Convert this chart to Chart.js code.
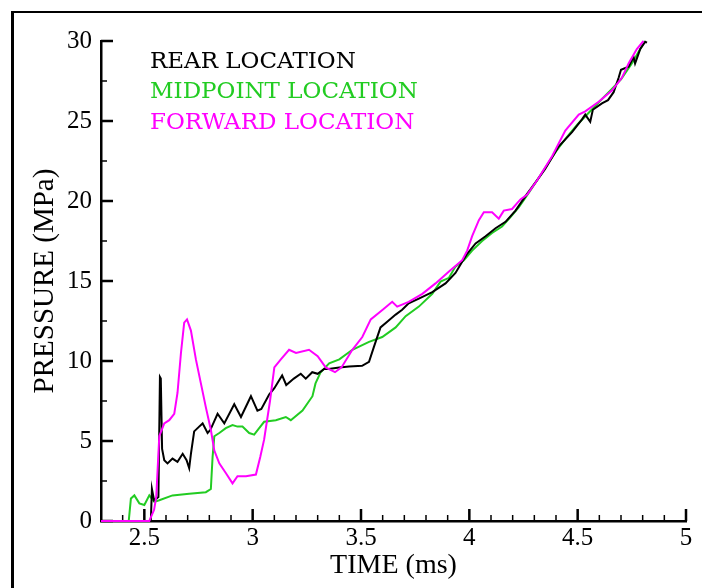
<!DOCTYPE html>
<html>
<head>
<meta charset="utf-8">
<script src="https://cdn.jsdelivr.net/npm/chart.js@4/dist/chart.umd.min.js"></script>
<style>
  body { margin: 0; background: #fff; overflow: hidden; }
  #frame { position: absolute; left: 11px; top: 11px; width: 1000px; height: 1000px;
           border-left: 3px solid #000; border-top: 2px solid #000; }
  #wrap { position: absolute; left: 0; top: 0; width: 702px; height: 588px; }
</style>
</head>
<body>
<div id="frame"></div>
<div id="wrap"><canvas id="myChart"></canvas></div>
<script>
// rear location (black)
let rearX = [2.3, 2.53, 2.535, 2.545, 2.555, 2.565, 2.572, 2.576, 2.582, 2.592, 2.607, 2.63, 2.653, 2.677, 2.695, 2.707,
  2.715, 2.73, 2.753, 2.769, 2.792, 2.805, 2.838, 2.869, 2.915, 2.946, 2.992, 3.022, 3.04, 3.076, 3.1, 3.136, 3.155,
  3.19, 3.222, 3.245, 3.275, 3.3, 3.33, 3.35, 3.4, 3.445, 3.505, 3.537, 3.56, 3.59, 3.625, 3.66, 3.69, 3.72, 3.767,
  3.829, 3.89, 3.936, 3.967, 3.99, 4.029, 4.075, 4.121, 4.167, 4.213, 4.259, 4.313, 4.35, 4.412, 4.474, 4.52, 4.535,
  4.558, 4.57, 4.612, 4.64, 4.666, 4.689, 4.7, 4.735, 4.758, 4.765, 4.789, 4.812, 4.82];
let rearY = [0, 0, 2.0, 1.3, 1.4, 1.5, 9.0, 8.9, 4.5, 3.8, 3.6, 3.9, 3.7, 4.2, 3.8, 3.3,
  4.2, 5.6, 5.9, 6.1, 5.5, 5.7, 6.7, 6.1, 7.3, 6.5, 7.8, 6.9, 7.0, 7.9, 8.3, 9.1, 8.5,
  8.9, 9.2, 8.9, 9.3, 9.2, 9.5, 9.5, 9.6, 9.65, 9.7, 9.95, 10.9, 12.1, 12.5, 12.9, 13.2, 13.6, 13.9,
  14.3, 14.85, 15.5, 16.2, 16.7, 17.35, 17.8, 18.3, 18.7, 19.4, 20.3, 21.3, 22.0, 23.4, 24.3, 25.1, 25.4,
  24.95, 25.7, 26.1, 26.3, 26.8, 27.7, 28.2, 28.4, 29.0, 28.6, 29.5, 29.95, 29.9];

// midpoint location (green)
let midX = [2.3, 2.428, 2.438, 2.454, 2.477, 2.5, 2.523, 2.546, 2.569, 2.63, 2.707, 2.784, 2.807, 2.815, 2.823,
  2.846, 2.876, 2.907, 2.93, 2.953, 2.984, 3.007, 3.03, 3.053, 3.107, 3.153, 3.176, 3.23, 3.276, 3.29, 3.314,
  3.353, 3.4, 3.46, 3.537, 3.598, 3.66, 3.706, 3.767, 3.829, 3.867, 3.906, 3.936, 3.975, 4.013, 4.059, 4.105,
  4.151, 4.19, 4.228, 4.274, 4.313, 4.4, 4.45, 4.5, 4.55, 4.6, 4.65, 4.7, 4.75, 4.81];
let midY = [0, 0, 1.4, 1.6, 1.1, 1.0, 1.6, 1.2, 1.3, 1.6, 1.7, 1.8, 2.0, 4.0, 5.3,
  5.5, 5.8, 6.0, 5.9, 5.9, 5.5, 5.4, 5.8, 6.2, 6.3, 6.5, 6.3, 6.9, 7.8, 8.6, 9.3,
  9.85, 10.1, 10.7, 11.2, 11.5, 12.1, 12.8, 13.4, 14.2, 14.96, 15.2, 15.9, 16.3, 16.9, 17.5, 18.0,
  18.4, 19.0, 19.6, 20.5, 21.3, 23.1, 24.0, 24.8, 25.5, 26.2, 26.9, 27.6, 28.6, 30.0];

// forward location (magenta)
let fwdX = [2.3, 2.523, 2.545, 2.555, 2.569, 2.592, 2.615, 2.638, 2.653, 2.669, 2.684, 2.697, 2.715, 2.738, 2.761,
  2.784, 2.807, 2.823, 2.846, 2.876, 2.907, 2.93, 2.969, 3.015, 3.035, 3.053, 3.08, 3.1, 3.13, 3.168, 3.2, 3.26,
  3.3, 3.337, 3.38, 3.41, 3.46, 3.506, 3.545, 3.6, 3.644, 3.667, 3.72, 3.783, 3.844, 3.906, 3.967, 3.99, 4.013,
  4.044, 4.067, 4.105, 4.136, 4.159, 4.197, 4.236, 4.267, 4.313, 4.382, 4.443, 4.505, 4.535, 4.597, 4.658, 4.704,
  4.735, 4.773, 4.804];
let fwdY = [0, 0, 0.7, 1.5, 5.3, 6.1, 6.3, 6.7, 8.0, 10.5, 12.4, 12.6, 11.9, 10.1, 8.6,
  7.1, 5.7, 4.4, 3.6, 3.0, 2.35, 2.8, 2.8, 2.9, 4.0, 5.1, 7.5, 9.6, 10.1, 10.7, 10.5, 10.7,
  10.3, 9.6, 9.3, 9.6, 10.7, 11.5, 12.6, 13.2, 13.7, 13.4, 13.7, 14.2, 14.85, 15.6, 16.3, 16.9, 17.8,
  18.8, 19.3, 19.3, 18.9, 19.4, 19.5, 20.1, 20.4, 21.3, 22.8, 24.4, 25.4, 25.6, 26.2, 26.9, 27.7,
  28.6, 29.5, 30.0];

let seriesNames = ['REAR LOCATION', 'MIDPOINT LOCATION', 'FORWARD LOCATION'];
let seriesColors = ['#000000', '#22cc22', '#ff00ff'];

let xTicks = [2.5, 3, 3.5, 4, 4.5, 5];
let yTicks = [0, 5, 10, 15, 20, 25, 30];

let xMinor = [];
for (let v = 24; v <= 49; v++) if (v % 5) xMinor.push(v / 10);
let yMinor = [2.5, 7.5, 12.5, 17.5, 22.5, 27.5];

function pts(xs, ys) {
    return xs.map((x, i) => ({ x: x, y: ys[i] }));
}

// inward tick marks (under the lines) + coloured text legend (on top)
const axisDecor = {
    id: 'axisDecor',
    beforeDatasetsDraw(chart) {
        let ctx = chart.ctx;
        let a = chart.chartArea;
        let x = chart.scales.x, y = chart.scales.y;
        ctx.save();
        ctx.strokeStyle = '#000';
        ctx.lineWidth = 1.5;
        ctx.beginPath();
        xMinor.forEach(v => { let p = x.getPixelForValue(v); ctx.moveTo(p, a.bottom); ctx.lineTo(p, a.bottom - 6); });
        yMinor.forEach(v => { let p = y.getPixelForValue(v); ctx.moveTo(a.left, p); ctx.lineTo(a.left + 6, p); });
        ctx.stroke();
        ctx.lineWidth = 2.5;
        ctx.beginPath();
        xTicks.forEach(v => { let p = x.getPixelForValue(v); ctx.moveTo(p, a.bottom); ctx.lineTo(p, a.bottom - 12); });
        yTicks.forEach(v => { let p = y.getPixelForValue(v); ctx.moveTo(a.left, p); ctx.lineTo(a.left + 12, p); });
        ctx.stroke();
        ctx.restore();
    },
    afterDatasetsDraw(chart) {
        let ctx = chart.ctx;
        let a = chart.chartArea;
        ctx.save();
        ctx.font = '23px "DejaVu Serif"';
        ctx.textBaseline = 'alphabetic';
        ctx.textAlign = 'left';
        let offs = [27, 57, 88];
        seriesNames.forEach((name, i) => {
            ctx.fillStyle = seriesColors[i];
            ctx.fillText(name, a.left + 49, a.top + offs[i]);
        });
        ctx.restore();
    }
};

let ctx = document.getElementById('myChart').getContext('2d');

let data = {
    datasets: [
        { label: seriesNames[2], data: pts(fwdX, fwdY), borderColor: seriesColors[2], order: 0, clip: 4 },
        { label: seriesNames[0], data: pts(rearX, rearY), borderColor: seriesColors[0], order: 1, clip: 4 },
        { label: seriesNames[1], data: pts(midX, midY), borderColor: seriesColors[1], order: 2, clip: 4 }
    ]
};

let tickFont = { family: '"Liberation Serif"', size: 25 };

let options = {
    responsive: true,
    maintainAspectRatio: false,
    animation: false,
    showLine: true,
    layout: { padding: { top: 41, right: 16, left: 0, bottom: 0 } },
    elements: {
        line: { borderWidth: 2, tension: 0, fill: false },
        point: { radius: 0 }
    },
    plugins: {
        legend: { display: false },
        tooltip: { enabled: false }
    },
    scales: {
        x: {
            type: 'linear',
            min: 2.3,
            max: 5,
            afterBuildTicks: s => { s.ticks = xTicks.map(v => ({ value: v })); },
            afterFit: s => { s.height = 67; },
            grid: { display: true, color: 'rgba(0,0,0,0)', drawTicks: false },
            border: { display: true, color: '#000', width: 2.5 },
            ticks: { color: '#000', font: tickFont, padding: 2, maxRotation: 0, callback: v => String(v) },
            title: {
                display: true, text: 'TIME (ms)', color: '#000',
                font: { family: '"Liberation Serif"', size: 28 },
                padding: { top: 0, bottom: 6 }
            }
        },
        y: {
            type: 'linear',
            min: 0,
            max: 30,
            afterBuildTicks: s => { s.ticks = yTicks.map(v => ({ value: v })); },
            afterFit: s => { s.width = 101; },
            grid: { display: true, color: 'rgba(0,0,0,0)', drawTicks: false },
            border: { display: true, color: '#000', width: 2.5 },
            ticks: { color: '#000', font: tickFont, padding: 9, callback: v => String(v) },
            title: {
                display: true, text: 'PRESSURE (MPa)', color: '#000',
                font: { family: '"Liberation Serif"', size: 29 },
                padding: { top: 28, bottom: 0 }
            }
        }
    }
};

let myChart = new Chart(ctx, {
    type: 'scatter',
    data: data,
    options: options,
    plugins: [axisDecor]
});
</script>
</body>
</html>
